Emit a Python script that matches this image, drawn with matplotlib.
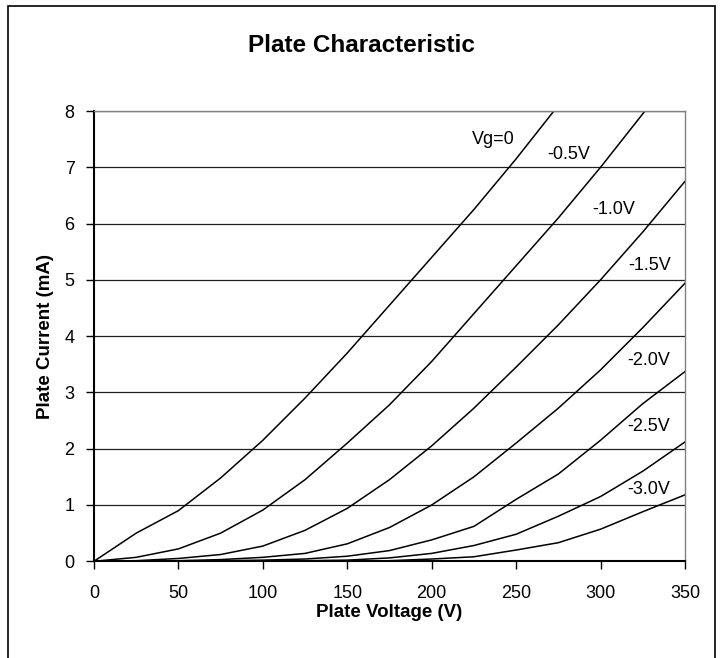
import matplotlib
matplotlib.use("Agg")
import matplotlib.pyplot as plt
from matplotlib.patches import Rectangle

plt.rcParams['font.family'] = ['Liberation Sans', 'DejaVu Sans']

# plate voltage (V) and plate current (mA)
v_g0 = [0, 25, 50, 75, 100, 125, 150, 175, 200, 225, 250, 275]
i_g0 = [0, 0.5, 0.9, 1.48, 2.15, 2.9, 3.7, 4.55, 5.4, 6.25, 7.15, 8.1]

v_g05 = [0, 25, 50, 75, 100, 125, 150, 175, 200, 225, 250, 275, 300, 325, 350]
i_g05 = [0, 0.07, 0.22, 0.5, 0.91, 1.45, 2.1, 2.78, 3.55, 4.4, 5.25, 6.1, 7.0, 7.95, 8.9]

v_g10 = [0, 25, 50, 75, 100, 125, 150, 175, 200, 225, 250, 275, 300, 325, 350]
i_g10 = [0, 0.01, 0.05, 0.12, 0.27, 0.55, 0.94, 1.45, 2.05, 2.72, 3.45, 4.2, 5.0, 5.85, 6.75]

v_g15 = [0, 25, 50, 75, 100, 125, 150, 175, 200, 225, 250, 275, 300, 325, 350]
i_g15 = [0, 0, 0.01, 0.03, 0.07, 0.14, 0.31, 0.6, 1.0, 1.5, 2.1, 2.72, 3.4, 4.15, 4.94]

v_g20 = [0, 50, 75, 100, 125, 150, 175, 200, 225, 250, 275, 300, 325, 350]
i_g20 = [0, 0, 0.01, 0.02, 0.04, 0.09, 0.19, 0.38, 0.62, 1.1, 1.55, 2.15, 2.8, 3.37]

v_g25 = [0, 100, 125, 150, 175, 200, 225, 250, 275, 300, 325, 350]
i_g25 = [0, 0, 0.01, 0.02, 0.06, 0.14, 0.28, 0.48, 0.8, 1.15, 1.6, 2.12]

v_g30 = [0, 150, 175, 200, 225, 250, 275, 300, 325, 350]
i_g30 = [0, 0, 0.01, 0.04, 0.08, 0.2, 0.33, 0.57, 0.88, 1.18]

curves = [(v_g0, i_g0), (v_g05, i_g05), (v_g10, i_g10), (v_g15, i_g15),
          (v_g20, i_g20), (v_g25, i_g25), (v_g30, i_g30)]

# curve labels and where they sit (V, mA)
labels = ["Vg=0", "-0.5V", "-1.0V", "-1.5V", "-2.0V", "-2.5V", "-3.0V"]
label_v = [236.5, 281, 307.5, 329, 328.5, 328.5, 328.5]
label_i = [7.49, 7.22, 6.25, 5.25, 3.56, 2.39, 1.28]

fig = plt.figure(figsize=(7.23, 6.58), dpi=100)
ax = fig.add_axes([0.130, 0.147, 0.8174, 0.6843])

for v, i in curves:
    ax.plot(v, i, color='black', linewidth=1.1)

for txt, lv, li in zip(labels, label_v, label_i):
    ax.text(lv, li, txt, fontsize=13, ha='center', va='center')

ax.set_xlim(0, 350)
ax.set_ylim(0, 8)
ax.set_xticks(range(0, 351, 50))
ax.set_yticks(range(0, 9))
ax.yaxis.grid(True, color='#202020', linewidth=0.9)
ax.set_axisbelow(True)
ax.tick_params(direction='out', length=6, width=1, labelsize=13, color='black')
ax.tick_params(axis='x', pad=11)
ax.tick_params(axis='y', pad=8)

for side in ['left', 'bottom']:
    ax.spines[side].set_linewidth(1.5)
    ax.spines[side].set_color('black')
for side in ['top', 'right']:
    ax.spines[side].set_linewidth(1.0)
    ax.spines[side].set_color('#808080')

ax.set_xlabel('Plate Voltage (V)', fontsize=13.5, fontweight='bold')
ax.set_ylabel('Plate Current (mA)', fontsize=13.5, fontweight='bold')
ax.xaxis.set_label_coords(0.5, -0.095)
ax.yaxis.set_label_coords(-0.068, 0.5)
fig.text(0.5, 1 - 45 / 658, 'Plate Characteristic', fontsize=17.5, fontweight='bold',
         ha='center', va='center')

# chart area border (runs off the bottom of the image)
fig.patches.append(Rectangle((8 / 723, -0.05), 707 / 723, 1.05 - 6 / 658,
                             transform=fig.transFigure, fill=False,
                             edgecolor='black', linewidth=1.2))

fig.savefig('out.png', dpi=100)
